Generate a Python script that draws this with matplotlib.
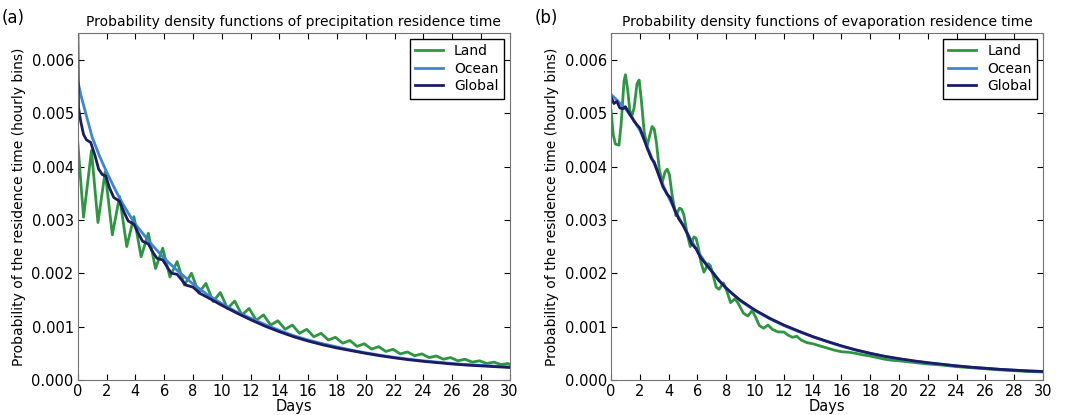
import numpy as np
import matplotlib.pyplot as plt

# values, probabilities in units of 1e-3
precip_land_days = [0.0, 0.4, 0.95, 1.4, 1.9, 2.4, 2.9, 3.4, 3.9, 4.4, 4.9, 5.4, 5.9, 6.4, 6.9,
                    7.4, 7.9, 8.4, 8.9, 9.4, 9.9, 10.4, 10.9, 11.4, 11.9, 12.4, 12.9, 13.4, 13.9,
                    14.4, 14.9, 15.4, 15.9, 16.4, 16.9, 17.4, 17.9, 18.4, 18.9, 19.4, 19.9, 20.4,
                    20.9, 21.4, 21.9, 22.4, 22.9, 23.4, 23.9, 24.4, 24.9, 25.4, 25.9, 26.4, 26.9,
                    27.4, 27.9, 28.4, 28.9, 29.4, 29.9, 30.0]
precip_land = [4.45, 3.05, 4.30, 2.95, 3.90, 2.72, 3.44, 2.50, 3.06, 2.31, 2.75, 2.09, 2.47, 1.93, 2.22,
               1.78, 2.00, 1.63, 1.81, 1.47, 1.64, 1.34, 1.48, 1.22, 1.34, 1.12, 1.22, 1.03, 1.11,
               0.95, 1.03, 0.875, 0.95, 0.81, 0.875, 0.75, 0.80, 0.69, 0.74, 0.63, 0.68, 0.58,
               0.625, 0.535, 0.575, 0.49, 0.525, 0.455, 0.49, 0.42, 0.45, 0.39, 0.42, 0.36, 0.39,
               0.335, 0.36, 0.31, 0.335, 0.29, 0.31, 0.29]

precip_ocean_days = [0, 0.25, 0.5, 1, 1.5, 2, 2.5, 3, 3.5, 4, 5, 6, 7, 8, 9, 10, 11, 12, 13, 14, 15,
                     16, 17, 18, 19, 20, 21, 22, 23, 24, 25, 26, 27, 28, 29, 30]
precip_ocean = [5.6, 5.3, 5.05, 4.55, 4.2, 3.9, 3.62, 3.36, 3.13, 2.92, 2.58, 2.28, 2.03, 1.8, 1.6,
                1.43, 1.28, 1.16, 1.04, 0.93, 0.83, 0.75, 0.68, 0.62, 0.56, 0.51, 0.465, 0.425,
                0.39, 0.36, 0.335, 0.31, 0.29, 0.275, 0.26, 0.245]

precip_global_days = [0, 0.05, 0.2, 0.4, 0.6, 0.9, 1.2, 1.45, 1.7, 1.95, 2.2, 2.5, 2.9, 3.2, 3.5,
                      3.9, 4.2, 4.5, 4.9, 5.2, 5.5, 5.9, 6.2, 6.5, 6.9, 7.2, 7.5, 8, 8.5, 9, 10, 11,
                      12, 13, 14, 15, 16, 17, 18, 19, 20, 21, 22, 23, 24, 25, 26, 27, 28, 29, 30]
precip_global = [6.6, 5.1, 4.85, 4.6, 4.5, 4.45, 4.2, 3.95, 3.85, 3.82, 3.6, 3.42, 3.35, 3.15, 2.98,
                 2.92, 2.75, 2.6, 2.55, 2.4, 2.28, 2.25, 2.12, 2.0, 1.98, 1.88, 1.78, 1.74, 1.62,
                 1.55, 1.4, 1.26, 1.13, 1.01, 0.905, 0.81, 0.73, 0.66, 0.6, 0.55, 0.5, 0.455,
                 0.415, 0.38, 0.35, 0.325, 0.3, 0.28, 0.265, 0.25, 0.235]

evap_land_days = [0, 0.15, 0.3, 0.55, 0.7, 0.9, 1.0, 1.15, 1.3, 1.45, 1.6, 1.8, 1.95, 2.1, 2.3, 2.5,
                  2.7, 2.85, 3.0, 3.15, 3.35, 3.55, 3.75, 3.9, 4.05, 4.25, 4.5, 4.75, 4.9, 5.05,
                  5.3, 5.5, 5.75, 5.9, 6.05, 6.25, 6.45, 6.75, 6.9, 7.1, 7.3, 7.5, 7.8, 8.0, 8.3,
                  8.6, 8.8, 9.2, 9.5, 9.8, 10.0, 10.3, 10.6, 10.9, 11.2, 11.6, 12.0, 12.3, 12.6,
                  12.9, 13.2, 13.6, 14.0, 14.5, 15, 15.5, 16, 16.5, 17, 17.5, 18, 18.5, 19, 19.5,
                  20, 21, 22, 23, 24, 25, 26, 27, 28, 29, 30]
evap_land = [5.05, 4.6, 4.42, 4.4, 4.8, 5.6, 5.72, 5.45, 5.05, 4.95, 5.1, 5.55, 5.62, 5.25, 4.65, 4.38,
             4.6, 4.75, 4.7, 4.45, 3.95, 3.7, 3.9, 3.95, 3.85, 3.45, 3.08, 3.22, 3.2, 3.1,
             2.72, 2.5, 2.68, 2.66, 2.5, 2.2, 2.02, 2.18, 2.14, 1.95, 1.74, 1.7, 1.82, 1.7, 1.45,
             1.52, 1.45, 1.25, 1.2, 1.3, 1.2, 1.02, 0.97, 1.03, 0.95, 0.9, 0.9, 0.84, 0.8,
             0.82, 0.75, 0.7, 0.68, 0.64, 0.6, 0.56, 0.53, 0.52, 0.5, 0.47, 0.45, 0.42, 0.39, 0.37,
             0.36, 0.33, 0.3, 0.28, 0.25, 0.23, 0.21, 0.19, 0.175, 0.16, 0.15]

evap_ocean_days = [0, 0.5, 1, 1.5, 2, 2.5, 3, 3.5, 4, 4.5, 5, 5.5, 6, 6.5, 7, 7.5, 8, 9, 10, 11, 12,
                   13, 14, 15, 16, 17, 18, 19, 20, 21, 22, 23, 24, 25, 26, 27, 28, 29, 30]
evap_ocean = [5.35, 5.22, 5.08, 4.9, 4.68, 4.38, 4.05, 3.72, 3.42, 3.15, 2.9, 2.65, 2.42, 2.22, 2.04,
              1.87, 1.72, 1.48, 1.3, 1.15, 1.02, 0.91, 0.81, 0.72, 0.635, 0.56, 0.5, 0.44, 0.395,
              0.355, 0.32, 0.29, 0.265, 0.24, 0.22, 0.2, 0.185, 0.17, 0.16]

evap_global_days = [0, 0.2, 0.4, 0.6, 0.8, 1.0, 1.3, 1.6, 1.8, 2.0, 2.2, 2.5, 2.8, 3.0, 3.3, 3.6, 3.9,
                    4.1, 4.4, 4.7, 5.0, 5.3, 5.6, 5.9, 6.2, 6.5, 6.8, 7.1, 7.5, 8, 8.5, 9, 9.5, 10,
                    11, 12, 13, 14, 15, 16, 17, 18, 19, 20, 21, 22, 23, 24, 25, 26, 27, 28, 29, 30]
evap_global = [5.3, 5.18, 5.22, 5.1, 5.08, 5.12, 4.98, 4.85, 4.78, 4.72, 4.58, 4.35, 4.15, 4.08, 3.85,
               3.62, 3.48, 3.42, 3.2, 3.02, 2.9, 2.74, 2.55, 2.46, 2.3, 2.2, 2.1, 2.0, 1.86, 1.72,
               1.6, 1.49, 1.4, 1.31, 1.16, 1.03, 0.92, 0.815, 0.725, 0.64, 0.565, 0.5, 0.445, 0.4,
               0.36, 0.325, 0.295, 0.265, 0.24, 0.22, 0.2, 0.185, 0.17, 0.16]

LAND_COLOR = '#2e9640'
OCEAN_COLOR = '#3d86d4'
GLOBAL_COLOR = '#1c1c66'

panels = [
    ('(a)', 'Probability density functions of precipitation residence time',
     (precip_land_days, precip_land), (precip_ocean_days, precip_ocean),
     (precip_global_days, precip_global)),
    ('(b)', 'Probability density functions of evaporation residence time',
     (evap_land_days, evap_land), (evap_ocean_days, evap_ocean),
     (evap_global_days, evap_global)),
]

fig = plt.figure(figsize=(10.73, 4.15), dpi=100)
left_edges = [0.0725, 0.5695]

for left, (tag, title, land, ocean, glob) in zip(left_edges, panels):
    ax = fig.add_axes([left, 0.0843, 0.4025, 0.836])

    ax.plot(land[0], np.array(land[1]) * 1e-3, color=LAND_COLOR, lw=2, label='Land')
    ax.plot(ocean[0], np.array(ocean[1]) * 1e-3, color=OCEAN_COLOR, lw=2, label='Ocean')
    ax.plot(glob[0], np.array(glob[1]) * 1e-3, color=GLOBAL_COLOR, lw=2, label='Global')

    ax.set_xlim(0, 30)
    ax.set_ylim(0, 0.0065)
    ax.set_xticks(np.arange(0, 31, 2))
    ax.set_yticks(np.arange(0, 0.0061, 0.001))
    ax.yaxis.set_major_formatter(plt.FormatStrFormatter('%.3f'))
    ax.tick_params(direction='in', top=True, right=True, length=4, labelsize=10.5, pad=3)
    for spine in ax.spines.values():
        spine.set_color('0.45')

    ax.set_title(title, fontsize=10, pad=5)
    ax.set_xlabel('Days', fontsize=10.5, labelpad=0)
    ax.set_ylabel('Probability of the residence time (hourly bins)', fontsize=10, labelpad=4)

    leg = ax.legend(loc='upper right', fontsize=10, fancybox=False, framealpha=1,
                    handlelength=2.0, borderaxespad=0.4, labelspacing=0.25)
    leg.get_frame().set_edgecolor('black')

    fig.text(left - 0.071, 0.945, tag, fontsize=12)

fig.savefig('out.png', dpi=100)
